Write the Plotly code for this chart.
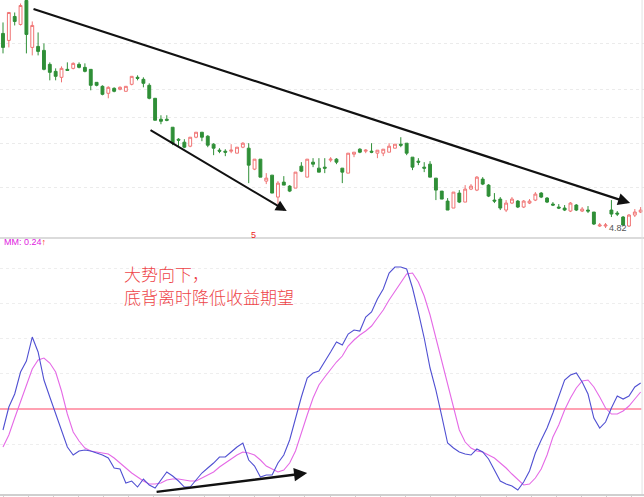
import plotly.graph_objects as go

# ---------------- data ----------------
opens = [6.77, 6.70, 6.94, 6.86, 7.10, 6.63, 6.64, 6.60, 6.46, 6.39,
         6.33, 6.41, 6.42, 6.46, 6.43, 6.41, 6.28, 6.24, 6.17, 6.22,
         6.21, 6.19, 6.26, 6.33, 6.31, 6.25, 6.12, 5.91, 5.91, 5.83,
         5.71, 5.68, 5.64, 5.73, 5.78, 5.74, 5.66, 5.60, 5.59, 5.59,
         5.57, 5.63, 5.62, 5.41, 5.51, 5.29, 5.35, 5.13, 5.28, 5.24,
         5.22, 5.44, 5.33, 5.48, 5.42, 5.43, 5.50, 5.51, 5.42, 5.37,
         5.56, 5.61, 5.59, 5.59, 5.57, 5.57, 5.58, 5.62, 5.66, 5.67,
         5.53, 5.49, 5.43, 5.46, 5.32, 5.19, 5.09, 5.02, 5.17, 5.08,
         5.21, 5.20, 5.31, 5.25, 5.10, 5.11, 5.00, 5.07, 5.09, 5.03,
         5.07, 5.10, 5.17, 5.12, 5.06, 5.03, 5.02, 4.99, 5.05, 4.99,
         5.00, 4.98, 4.84, 4.84, 5.00, 4.97, 4.93, 4.84, 4.95, 4.98]
highs = [6.88, 6.98, 6.98, 7.07, 7.10, 6.89, 6.78, 6.67, 6.48, 6.42,
         6.44, 6.48, 6.48, 6.48, 6.47, 6.41, 6.28, 6.25, 6.24, 6.23,
         6.24, 6.24, 6.34, 6.35, 6.33, 6.27, 6.12, 5.95, 5.95, 5.83,
         5.72, 5.71, 5.73, 5.78, 5.78, 5.75, 5.67, 5.62, 5.61, 5.66,
         5.63, 5.68, 5.67, 5.51, 5.51, 5.37, 5.35, 5.29, 5.34, 5.25,
         5.38, 5.48, 5.51, 5.52, 5.52, 5.52, 5.53, 5.52, 5.42, 5.57,
         5.58, 5.62, 5.61, 5.67, 5.60, 5.61, 5.67, 5.66, 5.73, 5.67,
         5.53, 5.52, 5.48, 5.49, 5.32, 5.19, 5.12, 5.18, 5.20, 5.25,
         5.26, 5.34, 5.33, 5.26, 5.17, 5.13, 5.10, 5.13, 5.10, 5.10,
         5.11, 5.18, 5.18, 5.13, 5.08, 5.06, 5.05, 5.08, 5.06, 5.03,
         5.04, 4.98, 4.87, 4.87, 5.10, 4.99, 4.94, 4.96, 5.01, 5.03]
lows = [6.57, 6.63, 6.85, 6.85, 6.57, 6.55, 6.55, 6.40, 6.30, 6.30,
        6.28, 6.40, 6.41, 6.42, 6.38, 6.20, 6.24, 6.15, 6.12, 6.18,
        6.20, 6.19, 6.25, 6.30, 6.23, 6.11, 5.90, 5.86, 5.89, 5.65,
        5.64, 5.62, 5.63, 5.72, 5.69, 5.63, 5.55, 5.57, 5.54, 5.57,
        5.57, 5.62, 5.27, 5.40, 5.33, 5.26, 5.17, 5.06, 5.25, 5.18,
        5.22, 5.38, 5.33, 5.43, 5.38, 5.37, 5.48, 5.46, 5.27, 5.37,
        5.53, 5.57, 5.57, 5.57, 5.52, 5.54, 5.58, 5.62, 5.63, 5.55,
        5.40, 5.45, 5.38, 5.33, 5.10, 5.11, 5.00, 5.02, 5.07, 5.08,
        5.20, 5.19, 5.25, 5.13, 5.07, 5.00, 4.98, 5.06, 5.02, 5.02,
        5.06, 5.09, 5.12, 5.07, 5.04, 5.01, 4.99, 4.98, 4.99, 4.98,
        4.97, 4.85, 4.83, 4.82, 4.93, 4.94, 4.84, 4.83, 4.93, 4.97]
closes = [6.63, 6.98, 6.89, 7.05, 6.76, 6.85, 6.59, 6.41, 6.38, 6.34,
          6.42, 6.40, 6.47, 6.43, 6.39, 6.25, 6.25, 6.16, 6.23, 6.19,
          6.23, 6.24, 6.34, 6.32, 6.27, 6.12, 5.90, 5.89, 5.90, 5.67,
          5.70, 5.63, 5.73, 5.78, 5.73, 5.65, 5.62, 5.59, 5.58, 5.60,
          5.63, 5.67, 5.45, 5.51, 5.33, 5.32, 5.17, 5.27, 5.25, 5.19,
          5.38, 5.39, 5.51, 5.46, 5.38, 5.42, 5.51, 5.48, 5.38, 5.57,
          5.58, 5.58, 5.60, 5.58, 5.60, 5.61, 5.64, 5.66, 5.65, 5.57,
          5.43, 5.48, 5.42, 5.33, 5.20, 5.11, 5.00, 5.18, 5.08, 5.21,
          5.24, 5.33, 5.26, 5.14, 5.09, 5.02, 5.07, 5.11, 5.03, 5.09,
          5.09, 5.16, 5.13, 5.08, 5.05, 5.02, 5.00, 5.07, 5.00, 5.01,
          4.99, 4.86, 4.85, 4.85, 4.96, 4.96, 4.85, 4.95, 4.98, 5.00]

mm_fast = [-0.21, 0.02, 0.15, 0.37, 0.48, 0.72, 0.57, 0.29, 0.12, -0.05,
           -0.22, -0.38, -0.46, -0.42, -0.41, -0.42, -0.44, -0.46, -0.49, -0.59,
           -0.60, -0.74, -0.72, -0.78, -0.70, -0.76, -0.79, -0.71, -0.63, -0.67,
           -0.72, -0.78, -0.78, -0.71, -0.64, -0.59, -0.54, -0.48, -0.48, -0.43,
           -0.38, -0.34, -0.51, -0.57, -0.68, -0.66, -0.66, -0.54, -0.46, -0.31,
           -0.09, 0.12, 0.31, 0.36, 0.38, 0.47, 0.57, 0.67, 0.64, 0.75,
           0.79, 0.78, 0.92, 0.97, 1.10, 1.20, 1.36, 1.42, 1.42, 1.40,
           1.21, 0.97, 0.71, 0.41, 0.19, -0.07, -0.34, -0.39, -0.43, -0.45,
           -0.46, -0.40, -0.43, -0.50, -0.61, -0.72, -0.75, -0.77, -0.81, -0.73,
           -0.62, -0.44, -0.31, -0.19, -0.04, 0.13, 0.29, 0.34, 0.36, 0.27,
           0.15, -0.09, -0.19, -0.13, 0.01, 0.13, 0.10, 0.13, 0.22, 0.26]
mm_slow = [-0.38, -0.26, -0.09, 0.08, 0.23, 0.40, 0.49, 0.51, 0.46, 0.37,
           0.18, -0.05, -0.23, -0.32, -0.39, -0.42, -0.43, -0.44, -0.45, -0.49,
           -0.54, -0.59, -0.64, -0.68, -0.72, -0.75, -0.75, -0.74, -0.71, -0.70,
           -0.70, -0.71, -0.72, -0.72, -0.69, -0.66, -0.63, -0.58, -0.54, -0.50,
           -0.46, -0.43, -0.44, -0.46, -0.51, -0.57, -0.60, -0.63, -0.61, -0.54,
           -0.42, -0.23, -0.06, 0.11, 0.24, 0.32, 0.40, 0.47, 0.53, 0.63,
           0.69, 0.74, 0.78, 0.83, 0.91, 0.99, 1.09, 1.18, 1.27, 1.35,
           1.36, 1.27, 1.13, 0.94, 0.71, 0.48, 0.23, -0.01, -0.21, -0.33,
           -0.39, -0.42, -0.43, -0.46, -0.49, -0.54, -0.59, -0.65, -0.71, -0.76,
           -0.75, -0.69, -0.60, -0.46, -0.28, -0.16, -0.01, 0.11, 0.21, 0.28,
           0.29, 0.22, 0.12, 0.01, -0.05, -0.05, -0.02, 0.03, 0.10, 0.17]

bar_index = list(range(len(opens)))

# trend arrows: (tail_x, tail_y, head_x, head_y) in data units
trend_price_long = (4.96, 7.02, 107.2, 5.07)
trend_price_short = (24.96, 5.81, 48.5, 4.99)
trend_indicator = (26.0, -0.83, 52.0, -0.64)

price_grid = [5.23, 5.67, 5.93, 6.21, 6.67]
ind_grid = [1.41, 1.06, 0.71, 0.36, -0.35]
low_label = "4.82"
mm_label = "MM: 0.24"
note_line1 = "大势向下，"
note_line2 = "底背离时降低收益期望"

# ---------------- figure ----------------
SPLIT = 1 - 238 / 497

fig = go.Figure()
fig.add_trace(go.Candlestick(
    x=bar_index, open=opens, high=highs, low=lows, close=closes,
    increasing=dict(line=dict(color="#f07474", width=1), fillcolor="#ffffff"),
    decreasing=dict(line=dict(color="#2f8f37", width=1), fillcolor="#2f8f37"),
    whiskerwidth=0, hoverinfo="skip", xaxis="x", yaxis="y", showlegend=False))

fig.add_trace(go.Scatter(x=bar_index, y=mm_slow, mode="lines",
                         line=dict(color="#e56ae6", width=1.1),
                         yaxis="y2", hoverinfo="skip", showlegend=False))
fig.add_trace(go.Scatter(x=bar_index, y=mm_fast, mode="lines",
                         line=dict(color="#5050d2", width=1.1),
                         yaxis="y2", hoverinfo="skip", showlegend=False))

shapes = [
    dict(type="line", xref="paper", yref="y2", x0=0, x1=0.996, y0=0, y1=0,
         line=dict(color="#ff4466", width=1.2), layer="below"),
    dict(type="line", xref="paper", yref="paper", x0=0, x1=1, y0=SPLIT, y1=SPLIT,
         line=dict(color="#cfcfcf", width=1.5)),
    dict(type="line", xref="paper", yref="paper", x0=0.997, x1=0.997, y0=0.006, y1=1,
         line=dict(color="#e2e2e2", width=1)),
]

annotations = []
for (tx, ty, hx, hy), yr, w in [
        (trend_price_long, "y", 2.2),
        (trend_price_short, "y", 2.0),
        (trend_indicator, "y2", 2.4)]:
    annotations.append(dict(
        x=hx, y=hy, xref="x", yref=yr, ax=tx, ay=ty, axref="x", ayref=yr,
        text="", showarrow=True, arrowhead=2, arrowsize=1.1, arrowwidth=w,
        arrowcolor="#111111", standoff=0, startstandoff=0))

annotations += [
    dict(x=2 / 644, y=1 - 242 / 497, xref="paper", yref="paper", xanchor="left",
         yanchor="middle", showarrow=False,
         text=mm_label + '<span style="color:#ff2a2a">↑</span>',
         font=dict(size=9, color="#e020e0", family="Liberation Sans")),
    dict(x=253 / 644, y=1 - 235.5 / 497, xref="paper", yref="paper", xanchor="center",
         yanchor="middle", showarrow=False, text="5",
         font=dict(size=9, color="#ee2222", family="Liberation Sans")),
    dict(x=607 / 644, y=1 - 228 / 497, xref="paper", yref="paper", xanchor="left",
         yanchor="middle", showarrow=False, text=low_label,
         font=dict(size=9, color="#555555", family="Liberation Sans")),
    dict(x=122 / 644, y=1 - 273 / 497, xref="paper", yref="paper", xanchor="left",
         yanchor="middle", showarrow=False, text=note_line1,
         font=dict(size=17, color="#ee4448", family="Noto Sans CJK SC", weight=300)),
    dict(x=122 / 644, y=1 - 296 / 497, xref="paper", yref="paper", xanchor="left",
         yanchor="middle", showarrow=False, text=note_line2,
         font=dict(size=17, color="#ee4448", family="Noto Sans CJK SC", weight=300)),
]

fig.update_layout(
    width=644, height=497,
    margin=dict(l=0, r=0, t=0, b=0),
    paper_bgcolor="white", plot_bgcolor="white",
    showlegend=False,
    xaxis=dict(range=[-0.513, 109.57], anchor="y2", showgrid=False, zeroline=False,
               showticklabels=False, showline=True, linecolor="#cfcfcf", linewidth=1.5,
               ticks="outside", ticklen=3, tickcolor="#cfcfcf", tick0=0, dtick=4.3,
               rangeslider=dict(visible=False)),
    yaxis=dict(domain=[SPLIT, 1], range=[4.72, 7.105], showticklabels=False,
               tickmode="array", tickvals=price_grid, showgrid=True,
               gridcolor="#ebebeb", griddash="dot", zeroline=False),
    yaxis2=dict(domain=[0.006, SPLIT], range=[-0.85, 1.71], showticklabels=False,
                tickmode="array", tickvals=ind_grid, showgrid=True,
                gridcolor="#eeeeee", griddash="dot", zeroline=False),
    shapes=shapes, annotations=annotations,
)

fig.write_html(
    "out.html",
    config={"displayModeBar": False},
    post_script="document.body.style.margin='0px';document.body.style.padding='0px';",
)
